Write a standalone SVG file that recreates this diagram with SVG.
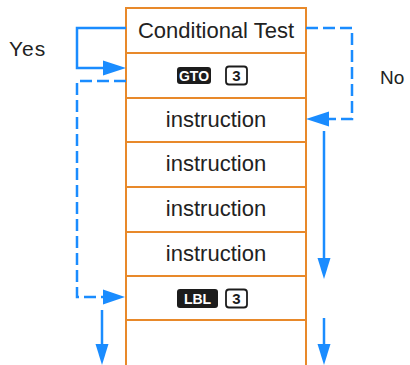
<svg xmlns="http://www.w3.org/2000/svg" width="410" height="365" viewBox="0 0 410 365">
<style>
.row{fill:#fff;stroke:#e8892a;stroke-width:2}
.t{font-family:"Liberation Sans",Arial,sans-serif;font-size:22px;fill:#222;text-anchor:middle}
.lbl{font-family:"Liberation Sans",Arial,sans-serif;fill:#222}
.key{fill:#1c1c1c}
.kt{font-family:"Liberation Sans",Arial,sans-serif;font-weight:bold;font-size:14px;fill:#fff;text-anchor:middle}
.nb{fill:#fff;stroke:#1c1c1c;stroke-width:1.8}
.nt{font-family:"Liberation Sans",Arial,sans-serif;font-weight:bold;font-size:15px;fill:#1c1c1c;text-anchor:middle}
.c{fill:none;stroke:#1a8cff;stroke-width:2.5}
.d{stroke-dasharray:12 5}
.ah{fill:#1a8cff}
</style>
<rect width="410" height="365" fill="#fff"/>
<g id="node-cond"><rect class="row" x="126" y="8" width="180" height="45"/><text class="t" x="216" y="38">Conditional Test</text></g>
<g id="node-gto"><rect class="row" x="126" y="53" width="180" height="45"/>
<rect class="key" x="177" y="67" width="34" height="17" rx="3"/><text class="kt" x="194" y="80.5">GTO</text>
<rect class="nb" x="226" y="66.5" width="21" height="18" rx="3"/><text class="nt" x="236.5" y="81">3</text></g>
<g id="node-i1"><rect class="row" x="126" y="98" width="180" height="44"/><text class="t" x="216" y="127">instruction</text></g>
<g id="node-i2"><rect class="row" x="126" y="142" width="180" height="45"/><text class="t" x="216" y="171">instruction</text></g>
<g id="node-i3"><rect class="row" x="126" y="187" width="180" height="45"/><text class="t" x="216" y="216">instruction</text></g>
<g id="node-i4"><rect class="row" x="126" y="232" width="180" height="44"/><text class="t" x="216" y="261">instruction</text></g>
<g id="node-lbl"><rect class="row" x="126" y="276" width="180" height="44"/>
<rect class="key" x="177" y="289" width="41" height="19" rx="3"/><text class="kt" x="197.5" y="303.5">LBL</text>
<rect class="nb" x="226" y="289.5" width="21" height="18" rx="3"/><text class="nt" x="236.5" y="304">3</text></g>
<g id="node-next"><rect class="row" x="126" y="320" width="180" height="50"/></g>
<g id="labels">
<text class="lbl" x="9" y="56" font-size="21" letter-spacing="1">Yes</text>
<text class="lbl" x="380" y="84" font-size="19">No</text>
</g>
<g id="connectors">
<path class="c" d="M126 28 H77 V68 H106"/>
<polygon class="ah" points="126,68 103,60.5 103,75.5"/>
<path class="c d" d="M126 81 H77 V297 H106"/>
<polygon class="ah" points="125,297 103,289.5 103,304.5"/>
<path class="c" d="M102 310 V346"/>
<polygon class="ah" points="102,365 95.5,344 108.5,344"/>
<path class="c d" d="M306 28 H352 V119 H328"/>
<polygon class="ah" points="306,119 329,111.5 329,126.5"/>
<path class="c" d="M324 131 V260"/>
<polygon class="ah" points="324,279 317.5,258 330.5,258"/>
<path class="c" d="M324 318 V346"/>
<polygon class="ah" points="324,365 317.5,344 330.5,344"/>
</g>
</svg>
